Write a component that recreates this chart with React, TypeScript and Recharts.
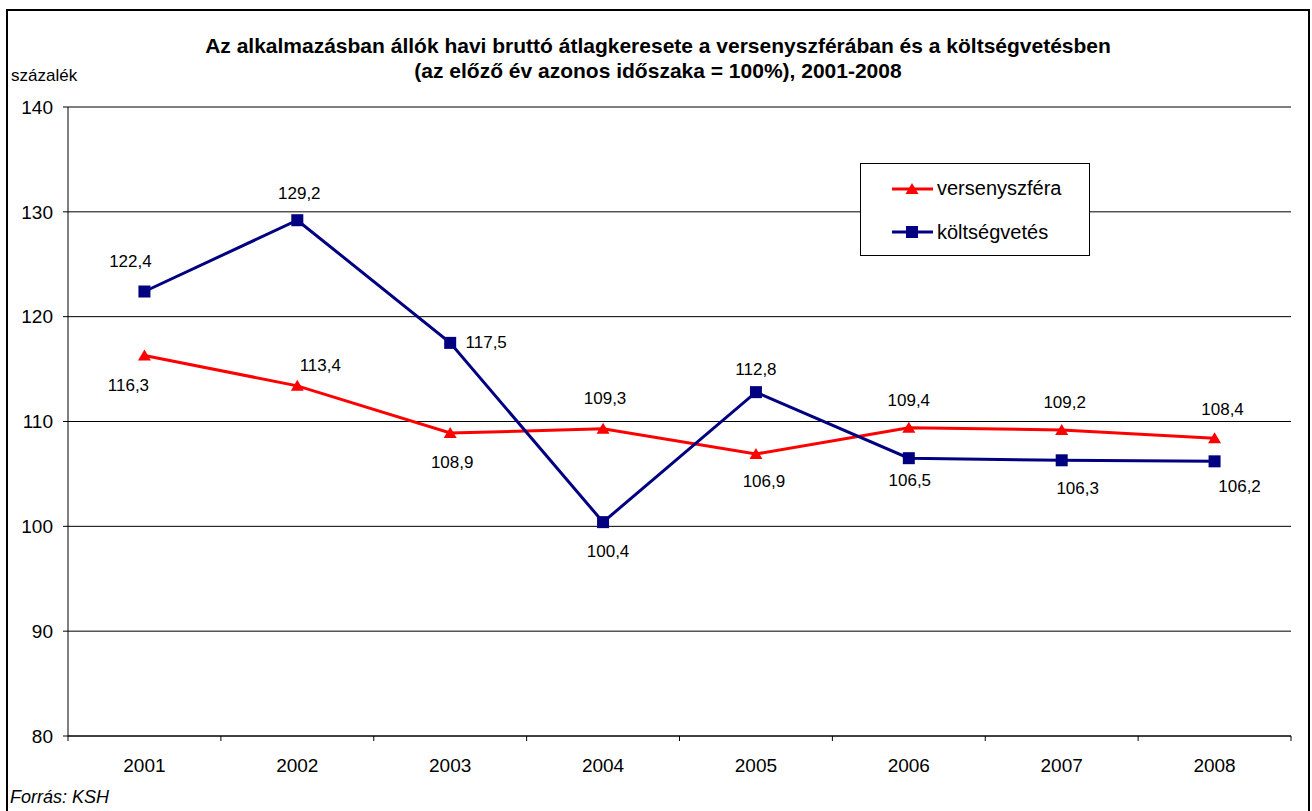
import React from 'react';
import { LineChart, Line, XAxis, YAxis, CartesianGrid, Legend } from 'recharts';

const years = ['2001', '2002', '2003', '2004', '2005', '2006', '2007', '2008'];
const versenyszfera = [116.3, 113.4, 108.9, 109.3, 106.9, 109.4, 109.2, 108.4];
const koltsegvetes = [122.4, 129.2, 117.5, 100.4, 112.8, 106.5, 106.3, 106.2];
const yTicks = [80, 90, 100, 110, 120, 130, 140];

const titleLine1 = 'Az alkalmazásban állók havi bruttó átlagkeresete a versenyszférában és a költségvetésben';
const titleLine2 = '(az előző év azonos időszaka = 100%), 2001-2008';

// label placement (dx, dy) relative to each point
const redOffsets: [number, number][] = [
  [-16, 30], [23, -20], [2, 29], [2, -30], [8, 28], [0, -27], [3, -27], [8, -29],
];
const blueOffsets: [number, number][] = [
  [-14, -30], [2, -27], [36, 0], [5, 29], [0, -23], [1, 22], [16, 28], [25, 25],
];

const data = years.map((y, i) => ({ year: y, v: versenyszfera[i], k: koltsegvetes[i] }));

const FONT = 'Arial, "Liberation Sans", Helvetica, sans-serif';
const W = 1312;
const H = 811;
const M = { top: 107, right: 21, bottom: 45, left: 8 };
const PLOT_W = W - M.left - 60 - M.right;
const BW = PLOT_W / years.length;

const fmt = (v: number) => v.toFixed(1).replace('.', ',');

const makeLabel = (offsets: [number, number][]) => (props: any) => {
  const { x, y, value, index } = props;
  const [dx, dy] = offsets[index] || [0, 0];
  return (
    <text x={x + dx} y={y + dy} textAnchor="middle" dominantBaseline="central"
      fontFamily={FONT} fontSize={17} fill="#000">{fmt(value)}</text>
  );
};

const Triangle = (props: any) => {
  const { cx, cy } = props;
  if (cx == null || cy == null) return null;
  return <polygon points={`${cx},${cy - 6} ${cx - 6.5},${cy + 5} ${cx + 6.5},${cy + 5}`} fill="#FF0000" />;
};
const Square = (props: any) => {
  const { cx, cy } = props;
  if (cx == null || cy == null) return null;
  return <rect x={cx - 6} y={cy - 6} width={12} height={12} fill="#000080" />;
};

const XTick = (props: any) => {
  const { x, y, payload, index } = props;
  return (
    <g>
      <line x1={x - BW / 2} x2={x - BW / 2} y1={y} y2={y + 5} stroke="#000" />
      {index === years.length - 1 && (
        <line x1={x + BW / 2} x2={x + BW / 2} y1={y} y2={y + 5} stroke="#000" />
      )}
      <text x={x} y={y + 29} textAnchor="middle" dominantBaseline="central"
        fontFamily={FONT} fontSize={19} fill="#000">{payload.value}</text>
    </g>
  );
};

const LegendContent = () => (
  <div style={{ width: 230, height: 93, boxSizing: 'border-box', border: '1px solid #000', background: '#fff', position: 'relative', fontFamily: FONT, fontSize: 20 }}>
    <svg width={80} height={93} style={{ position: 'absolute', left: 0, top: 0 }}>
      <line x1={31} x2={72} y1={25} y2={25} stroke="#FF0000" strokeWidth={3} />
      <polygon points="51,19 44.5,30 57.5,30" fill="#FF0000" />
      <line x1={31} x2={72} y1={68} y2={68} stroke="#000080" strokeWidth={3} />
      <rect x={45} y={62} width={12} height={12} fill="#000080" />
    </svg>
    <div style={{ position: 'absolute', left: 76, top: 12, lineHeight: '24px', whiteSpace: 'nowrap' }}>versenyszféra</div>
    <div style={{ position: 'absolute', left: 76, top: 56, lineHeight: '24px', whiteSpace: 'nowrap' }}>költségvetés</div>
  </div>
);

export default function App() {
  return (
    <div style={{ position: 'fixed', left: 0, top: 0, width: W, height: H, background: '#fff', fontFamily: FONT, overflow: 'hidden' }}>
      <div style={{ position: 'absolute', left: 0, width: W, top: 33, textAlign: 'center', fontWeight: 'bold', fontSize: 21, lineHeight: '25px', color: '#000' }}>
        <div style={{ marginLeft: 4 }}>{titleLine1}</div>
        <div style={{ marginLeft: 4 }}>{titleLine2}</div>
      </div>
      <div style={{ position: 'absolute', left: 11, top: 66, fontSize: 17, lineHeight: '20px', color: '#000' }}>százalék</div>
      <div style={{ position: 'absolute', left: 10, top: 786, fontSize: 18, fontStyle: 'italic', lineHeight: '22px', color: '#000' }}>Forrás: KSH</div>
      <div style={{ position: 'absolute', left: 0, top: 0 }}>
        <LineChart width={W} height={H} data={data} margin={M}>
          <CartesianGrid horizontal={true} vertical={false} stroke="#000" strokeWidth={1} />
          <XAxis dataKey="year" scale="band" axisLine={{ stroke: '#000' }} tickLine={false} tickSize={0} tickMargin={0}
            tick={<XTick />} interval={0} height={30} />
          <YAxis domain={[80, 140]} ticks={yTicks} width={60} axisLine={{ stroke: '#000' }}
            tickLine={{ stroke: '#000' }} tickSize={5} tickMargin={10}
            tick={{ fontFamily: FONT, fontSize: 19, fill: '#000' }} />
          <YAxis yAxisId="r" orientation="right" width={0} tick={false} tickLine={false}
            axisLine={{ stroke: '#000' }} domain={[80, 140]} />
          <Legend layout="vertical" align="center" verticalAlign="middle" content={<LegendContent />}
            wrapperStyle={{ position: 'absolute', left: 860, top: 163, width: 230, height: 93 }} />
          <Line dataKey="v" name="versenyszféra" stroke="#FF0000" strokeWidth={3} dot={<Triangle />}
            activeDot={false} isAnimationActive={false} label={makeLabel(redOffsets)} />
          <Line dataKey="k" name="költségvetés" stroke="#000080" strokeWidth={3} dot={<Square />}
            activeDot={false} isAnimationActive={false} label={makeLabel(blueOffsets)} />
        </LineChart>
      </div>
      <div style={{ position: 'absolute', left: 6, top: 9, width: 2, height: 820, background: '#000' }} />
      <div style={{ position: 'absolute', left: 1308, top: 9, width: 2, height: 820, background: '#000' }} />
      <div style={{ position: 'absolute', left: 6, top: 9, width: 1304, height: 2, background: '#000' }} />
    </div>
  );
}
